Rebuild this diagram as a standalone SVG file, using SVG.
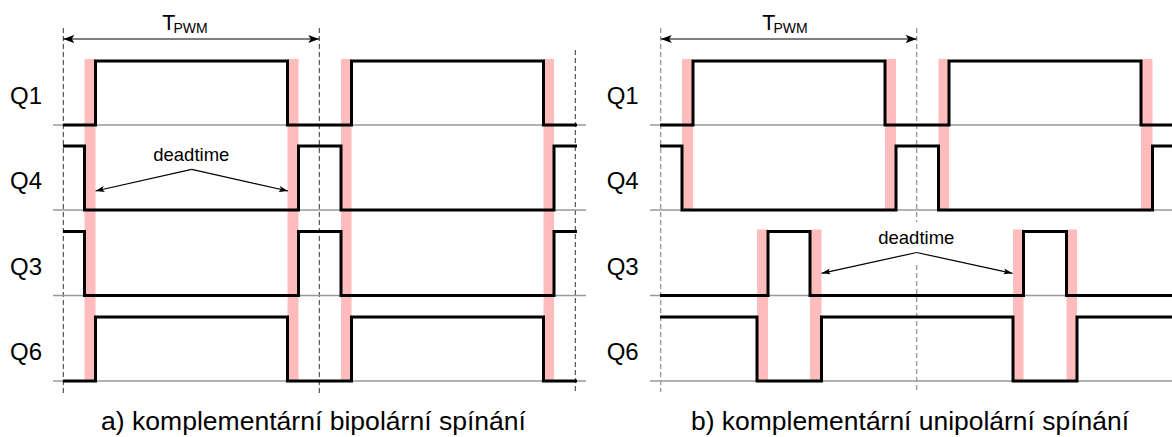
<svg xmlns="http://www.w3.org/2000/svg" width="1172" height="437" viewBox="0 0 1172 437">
  <style>
    text { font-family: "Liberation Sans", Arial, sans-serif; fill: #000; }
    .lbl { font-size: 24px; }
    .cap { font-size: 25px; }
    .dt { font-size: 18.5px; text-anchor: middle; }
    .tp { font-size: 21.5px; }
    .sub { font-size: 14px; }
    .dead { fill: #ffbcbc; }
    .base { stroke: #999; stroke-width: 1.3; fill: none; }
    .sig { stroke: #000; stroke-width: 3; fill: none; stroke-linejoin: miter; stroke-linecap: butt; }
    .grid-a { stroke: #333; stroke-width: 1; stroke-dasharray: 5 3; fill: none; }
    .grid-b { stroke: #999; stroke-width: 1.3; stroke-dasharray: 5 3; fill: none; }
    .dim { stroke: #000; stroke-width: 1.2; fill: none; }
  </style>
  <defs>
    <marker id="arrowBig" viewBox="0 0 11 8" refX="11" refY="4" markerWidth="11" markerHeight="8" markerUnits="userSpaceOnUse" orient="auto-start-reverse">
      <path d="M0,0 L11,4 L0,8 L2.5,4 z" fill="#000"/>
    </marker>
    <marker id="arrowSmall" viewBox="0 0 9 6" refX="9" refY="3" markerWidth="9" markerHeight="6" markerUnits="userSpaceOnUse" orient="auto">
      <path d="M0,0 L9,3 L0,6 L2,3 z" fill="#000"/>
    </marker>
  </defs>

  <!-- ===== a) bipolar switching ===== -->
  <g id="panel-a">
    <!-- deadtime intervals -->
    <g id="a-deadtime-bands">
      <rect class="dead" x="84.5" y="59" width="11" height="323"/>
      <rect class="dead" x="287.5" y="59" width="11" height="323"/>
      <rect class="dead" x="341" y="59" width="10.5" height="323"/>
      <rect class="dead" x="543.5" y="59" width="10.5" height="323"/>
    </g>
    <!-- period markers -->
    <g id="a-grid">
      <line class="grid-a" x1="63.3" y1="28" x2="63.3" y2="393"/>
      <line class="grid-a" x1="319.3" y1="28" x2="319.3" y2="393"/>
      <line class="grid-a" x1="575.3" y1="50" x2="575.3" y2="393"/>
    </g>
    <!-- zero levels -->
    <g id="a-baselines">
      <line class="base" x1="53" y1="125" x2="586" y2="125"/>
      <line class="base" x1="53" y1="210" x2="586" y2="210"/>
      <line class="base" x1="53" y1="295.5" x2="586" y2="295.5"/>
      <line class="base" x1="53" y1="381" x2="586" y2="381"/>
    </g>
    <g id="a-Q1">
      <text class="lbl" x="10" y="103.5">Q1</text>
      <path class="sig" d="M63,125 H95.5 V61 H287.5 V125 H351.5 V61 H543.5 V125 H577"/>
    </g>
    <g id="a-Q4">
      <text class="lbl" x="10" y="189">Q4</text>
      <path class="sig" d="M63,146 H84.5 V210 H298.5 V146 H341 V210 H554 V146 H577"/>
    </g>
    <g id="a-Q3">
      <text class="lbl" x="10" y="274.5">Q3</text>
      <path class="sig" d="M63,231.5 H84.5 V295.5 H298.5 V231.5 H341 V295.5 H554 V231.5 H577"/>
    </g>
    <g id="a-Q6">
      <text class="lbl" x="10" y="360">Q6</text>
      <path class="sig" d="M63,381 H95.5 V317 H287.5 V381 H351.5 V317 H543.5 V381 H577"/>
    </g>
    <g id="a-period">
      <line class="dim" x1="63.3" y1="39" x2="319.3" y2="39" marker-start="url(#arrowBig)" marker-end="url(#arrowBig)"/>
      <text class="tp" x="162.3" y="29.5">T<tspan class="sub" x="173.5" y="33">PWM</tspan></text>
    </g>
    <g id="a-deadtime-label">
      <text class="dt" x="191.3" y="161" textLength="76" lengthAdjust="spacingAndGlyphs">deadtime</text>
      <line class="dim" x1="191.7" y1="169.3" x2="95.5" y2="191" marker-end="url(#arrowSmall)"/>
      <line class="dim" x1="191.7" y1="169.3" x2="288" y2="191" marker-end="url(#arrowSmall)"/>
    </g>
    <text id="a-caption" class="cap" x="101" y="430" textLength="425" lengthAdjust="spacingAndGlyphs">a) komplementární bipolární spínání</text>
  </g>

  <!-- ===== b) unipolar switching ===== -->
  <g id="panel-b">
    <g id="b-deadtime-bands">
      <rect class="dead" x="682" y="59" width="11" height="152"/>
      <rect class="dead" x="885" y="59" width="11" height="152"/>
      <rect class="dead" x="938.5" y="59" width="10.5" height="152"/>
      <rect class="dead" x="1141" y="59" width="11.5" height="152"/>
      <rect class="dead" x="757" y="229.5" width="11" height="152.5"/>
      <rect class="dead" x="810" y="229.5" width="11.5" height="152.5"/>
      <rect class="dead" x="1013" y="229.5" width="10.5" height="152.5"/>
      <rect class="dead" x="1066.5" y="229.5" width="10.5" height="152.5"/>
    </g>
    <g id="b-grid">
      <line class="grid-b" x1="660.7" y1="28" x2="660.7" y2="392"/>
      <line class="grid-b" x1="916.7" y1="28" x2="916.7" y2="222"/>
      <line class="grid-b" x1="916.7" y1="265" x2="916.7" y2="392"/>
    </g>
    <g id="b-baselines">
      <line class="base" x1="650" y1="125" x2="1172" y2="125"/>
      <line class="base" x1="650" y1="210" x2="1172" y2="210"/>
      <line class="base" x1="650" y1="295.5" x2="1172" y2="295.5"/>
      <line class="base" x1="650" y1="381" x2="1172" y2="381"/>
    </g>
    <g id="b-Q1">
      <text class="lbl" x="606.7" y="103.5">Q1</text>
      <path class="sig" d="M660,125 H693 V61 H885 V125 H949 V61 H1141 V125 H1172"/>
    </g>
    <g id="b-Q4">
      <text class="lbl" x="606.7" y="189">Q4</text>
      <path class="sig" d="M660,146 H682 V210 H896 V146 H938.5 V210 H1152.5 V146 H1172"/>
    </g>
    <g id="b-Q3">
      <text class="lbl" x="606.7" y="274.5">Q3</text>
      <path class="sig" d="M660,295.5 H768 V231.5 H810 V295.5 H1023.5 V231.5 H1066.5 V295.5 H1172"/>
    </g>
    <g id="b-Q6">
      <text class="lbl" x="606.7" y="360">Q6</text>
      <path class="sig" d="M660,317 H757 V381 H821.5 V317 H1013 V381 H1077 V317 H1172"/>
    </g>
    <g id="b-period">
      <line class="dim" x1="660.7" y1="39" x2="916.7" y2="39" marker-start="url(#arrowBig)" marker-end="url(#arrowBig)"/>
      <text class="tp" x="762.3" y="29.5">T<tspan class="sub" x="773.5" y="33">PWM</tspan></text>
    </g>
    <g id="b-deadtime-label">
      <text class="dt" x="916.3" y="244" textLength="76" lengthAdjust="spacingAndGlyphs">deadtime</text>
      <line class="dim" x1="916.7" y1="252.5" x2="821.5" y2="273.3" marker-end="url(#arrowSmall)"/>
      <line class="dim" x1="916.7" y1="252.5" x2="1012.5" y2="273.3" marker-end="url(#arrowSmall)"/>
    </g>
    <text id="b-caption" class="cap" x="691" y="430" textLength="438" lengthAdjust="spacingAndGlyphs">b) komplementární unipolární spínání</text>
  </g>
</svg>
